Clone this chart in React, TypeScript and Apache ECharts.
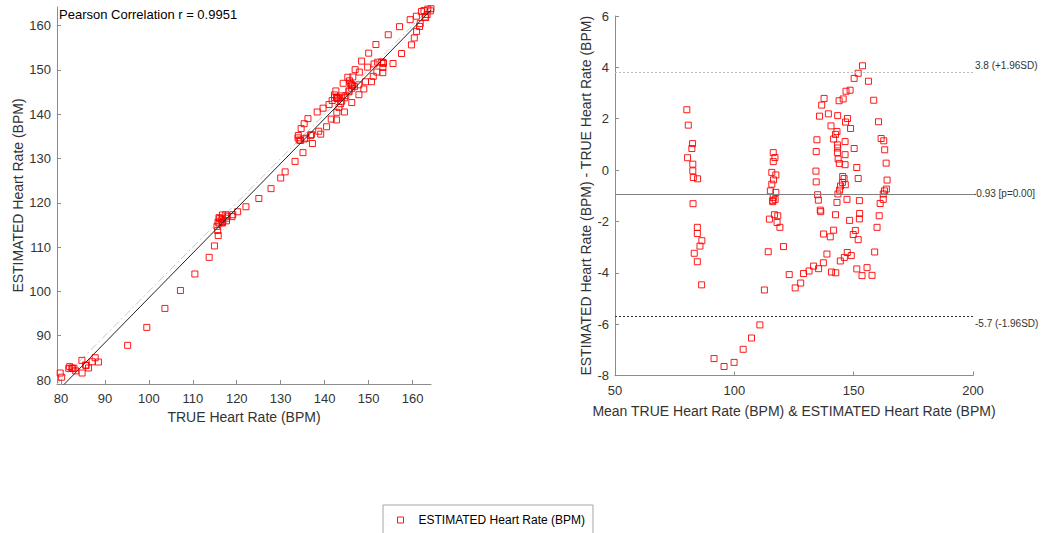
import React, { useEffect, useRef } from "react";
import * as echarts from "echarts";

// Bland-Altman data: mean of TRUE & ESTIMATED, and difference (ESTIMATED - TRUE)
const meanHR: number[] = [
  80.1, 80.7, 82.5, 82.2, 80.4, 82.6, 82.6, 82.8, 84.6, 82.7, 84.5, 84.5, 86.4, 85.6, 83.2, 84.5, 86.3,
  91.5, 95.7, 99.9, 103.7, 107.2, 110.7, 112.6, 114.2,
  114.7, 116.8, 118.2, 117.9, 119.1, 120.6, 123.0, 116.1, 116.3, 117.0, 116.3, 115.7, 117.4, 116.4, 115.7,
  115.1, 117.4, 116.3, 117.1, 116.1,
  153.7, 151.9, 150.2, 156.2, 148.5, 146.8, 137.6, 145.6, 143.9, 158.4, 136.6, 135.7, 139.4, 143.3, 147.4,
  146.6, 160.4, 140.5, 148.7, 143.0, 142.4, 134.6, 141.6, 146.4, 161.5, 162.6, 134.3, 143.2, 143.3, 150.2,
  163.0, 143.2, 146.4, 143.5, 144.0, 146.4, 163.6, 151.3, 134.2, 134.3, 145.4, 146.0, 151.9, 164.0, 145.3,
  146.5, 144.5, 163.7, 162.9, 144.1, 143.4, 134.9, 162.4, 135.2, 162.4, 143.0, 147.2, 152.4, 161.1, 136.0,
  136.2, 142.4, 152.5, 148.3, 152.4, 160.7, 159.8, 137.4, 140.2, 141.6, 149.8, 150.7, 151.9, 158.8, 138.8,
  147.3, 149.0, 146.1, 144.4, 137.3, 133.2, 135.3, 131.3, 129.0, 140.7, 142.5, 151.3, 155.6, 153.5, 157.7,
  127.8, 125.5,
];
const diffHR: number[] = [
  2.35, 1.75, 1.03, 0.84, 0.48, 0.23, -0.03, -0.29, -0.34, -1.31, -2.23, -2.47, -2.75, -2.96, -3.24, -3.57, -4.47,
  -7.34, -7.65, -7.49, -6.98, -6.54, -6.03, -4.67, -3.18,
  -1.91, -1.74, -1.78, -2.04, -2.23, -2.98, -4.07, -1.19, 0.68, 0.49, 0.33, -0.09, -0.19, -0.38, -0.55,
  -0.81, -0.87, -1.07, -1.14, -1.23,
  4.06, 3.77, 3.57, 3.46, 3.11, 3.07, 2.79, 2.77, 2.7, 2.72, 2.53, 2.1, 2.19, 2.12, 2.01,
  1.87, 1.88, 1.72, 1.62, 1.5, 1.39, 1.18, 1.21, 1.11, 1.23, 1.14, 0.72, 0.98, 0.86, 0.84,
  0.79, 0.68, 0.6, 0.43, 0.26, 0.21, 0.27, 0.1, -0.04, -0.46, -0.25, -0.33, -0.33, -0.39, -0.48,
  -0.57, -0.62, -0.74, -0.81, -0.78, -0.93, -0.96, -0.93, -1.17, -1.14, -1.26, -1.14, -1.19, -1.3, -1.56,
  -1.62, -1.74, -1.69, -1.96, -1.9, -1.78, -2.23, -2.49, -2.6, -2.34, -2.51, -2.35, -2.71, -3.19, -3.27,
  -3.21, -3.33, -3.4, -3.54, -3.61, -3.74, -3.84, -3.93, -4.03, -3.97, -4.0, -3.85, -3.8, -4.11, -4.1,
  -4.4, -4.59,
];

// TRUE and ESTIMATED values recovered from the same pairs (left panel)
const trueHR: number[] = meanHR.map((m, i) => +(m - diffHR[i] / 2).toFixed(2));
const estHR: number[] = meanHR.map((m, i) => +(m + diffHR[i] / 2).toFixed(2));

// Left panel settings
const axisLimits = [79.1, 164.2];
const fitSlope = 1.012;
const fitIntercept = -2.67;
const pearsonText = "Pearson Correlation r = 0.9951";

// Right panel reference lines
const meanDiff = -0.93;
const upperLoA = 3.8;
const lowerLoA = -5.7;
const meanLabel = "-0.93 [p=0.00]";
const upperLabel = "3.8 (+1.96SD)";
const lowerLabel = "-5.7 (-1.96SD)";

const seriesName = "ESTIMATED Heart Rate (BPM)";
const FONT = "Liberation Sans, Arial, Helvetica, sans-serif";

export default function App() {
  const ref = useRef<HTMLDivElement>(null);
  useEffect(() => {
    if (!ref.current) return;
    const chart = echarts.init(ref.current, null, { renderer: "svg" });
    const axisLine = { show: true, onZero: false, lineStyle: { color: "#8c8c8c", width: 1 } };
    const axisTick = { show: true, inside: true, length: 4, lineStyle: { color: "#8c8c8c" } };
    const axisLabel = { color: "#333", fontSize: 13, fontFamily: FONT };
    const nameStyle = { color: "#333", fontSize: 14, fontFamily: FONT };
    const markerStyle = { color: "rgba(255,255,255,0)", borderColor: "#ff0000", borderWidth: 1, opacity: 0.9 };
    const refLabel = { position: "end", distance: 2, fontSize: 10, color: "#333", fontFamily: FONT, lineHeight: 13 };

    const scatterLeft = trueHR.map((t, i) => [t, estHR[i]]);
    const scatterRight = meanHR.map((m, i) => [m, diffHR[i]]);
    const fitLine = axisLimits.map((x) => [x, fitSlope * x + fitIntercept]);
    const idLine = axisLimits.map((x) => [x, x]);

    chart.setOption({
      animation: false,
      backgroundColor: "#fff",
      textStyle: { fontFamily: FONT },
      grid: [
        { left: 57, top: 7, width: 374, height: 377 },
        { left: 615, top: 16, width: 358, height: 359.5 },
      ],
      title: {
        text: pearsonText,
        left: 59,
        top: 8,
        padding: 0,
        textStyle: { fontSize: 13, fontWeight: "normal", color: "#000", fontFamily: FONT },
      },
      legend: {
        data: [seriesName],
        left: 383,
        top: 505,
        padding: [9, 8, 10, 14],
        borderColor: "#a6a6a6",
        borderWidth: 1,
        icon: "rect",
        itemWidth: 6,
        itemHeight: 6,
        itemStyle: { color: "rgba(255,255,255,0)", borderColor: "#ff0000", borderWidth: 1 },
        textStyle: { fontSize: 12, color: "#000", fontFamily: FONT, padding: [0, 0, 0, 10] },
      },
      xAxis: [
        {
          gridIndex: 0,
          type: "value",
          min: axisLimits[0],
          max: axisLimits[1],
          splitNumber: 8,
          name: "TRUE Heart Rate (BPM)",
          nameLocation: "middle",
          nameGap: 26,
          nameTextStyle: nameStyle,
          axisLine,
          axisTick,
          axisLabel: { ...axisLabel, showMinLabel: false, showMaxLabel: false, margin: 8 },
          splitLine: { show: false },
        },
        {
          gridIndex: 1,
          type: "value",
          min: 50,
          max: 200,
          interval: 50,
          name: "Mean TRUE Heart Rate (BPM) & ESTIMATED Heart Rate (BPM)",
          nameLocation: "middle",
          nameGap: 28,
          nameTextStyle: nameStyle,
          axisLine,
          axisTick,
          axisLabel: { ...axisLabel, margin: 8 },
          splitLine: { show: false },
        },
      ],
      yAxis: [
        {
          gridIndex: 0,
          type: "value",
          min: axisLimits[0],
          max: axisLimits[1],
          splitNumber: 8,
          name: "ESTIMATED Heart Rate (BPM)",
          nameLocation: "middle",
          nameGap: 32,
          nameTextStyle: nameStyle,
          axisLine,
          axisTick,
          axisLabel: { ...axisLabel, showMinLabel: false, showMaxLabel: false, margin: 6 },
          splitLine: { show: false },
        },
        {
          gridIndex: 1,
          type: "value",
          min: -8,
          max: 6,
          interval: 2,
          name: "ESTIMATED Heart Rate (BPM) - TRUE Heart Rate (BPM)",
          nameLocation: "middle",
          nameGap: 22,
          nameTextStyle: nameStyle,
          axisLine,
          axisTick,
          axisLabel: { ...axisLabel, margin: 6 },
          splitLine: { show: false },
        },
      ],
      series: [
        {
          name: "identity",
          type: "line",
          xAxisIndex: 0,
          yAxisIndex: 0,
          data: idLine,
          showSymbol: false,
          symbol: "none",
          lineStyle: { color: "#c8c8c8", width: 1, type: [8, 3, 2, 3] },
          silent: true,
          z: 1,
        },
        {
          name: "fit",
          type: "line",
          xAxisIndex: 0,
          yAxisIndex: 0,
          data: fitLine,
          showSymbol: false,
          symbol: "none",
          lineStyle: { color: "#222", width: 1 },
          silent: true,
          z: 3,
        },
        {
          name: seriesName,
          type: "scatter",
          xAxisIndex: 0,
          yAxisIndex: 0,
          data: scatterLeft,
          symbol: "rect",
          symbolSize: 6,
          itemStyle: markerStyle,
          z: 2,
        },
        {
          name: seriesName,
          type: "scatter",
          xAxisIndex: 1,
          yAxisIndex: 1,
          data: scatterRight,
          symbol: "rect",
          symbolSize: 6,
          itemStyle: markerStyle,
          markLine: {
            silent: true,
            symbol: "none",
            animation: false,
            data: [
              {
                yAxis: upperLoA,
                lineStyle: { color: "#bdbdbd", type: [2, 2], width: 1 },
                label: { ...refLabel, formatter: upperLabel + "\n" },
              },
              {
                yAxis: meanDiff,
                lineStyle: { color: "#7f7f7f", type: "solid", width: 1 },
                label: { ...refLabel, distance: 0, formatter: meanLabel },
              },
              {
                yAxis: lowerLoA,
                lineStyle: { color: "#333", type: [2, 2], width: 1 },
                label: { ...refLabel, lineHeight: 15, formatter: "\n" + lowerLabel },
              },
            ],
          },
        },
      ],
    });
    return () => chart.dispose();
  }, []);
  return (
    <div
      ref={ref}
      style={{ position: "fixed", left: 0, top: 0, width: 1043, height: 533, background: "#fff" }}
    />
  );
}
